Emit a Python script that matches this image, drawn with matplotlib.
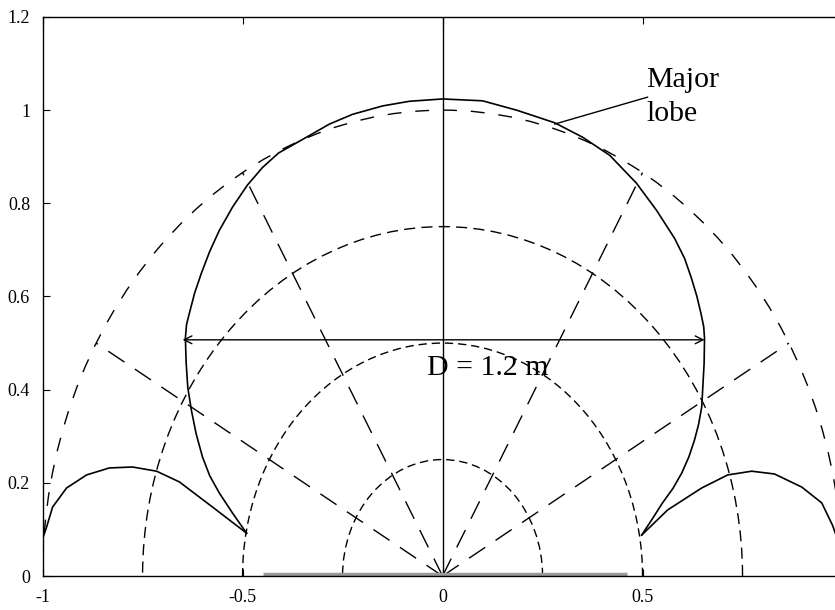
import matplotlib
matplotlib.use("Agg")
import matplotlib.pyplot as plt
import numpy as np
from matplotlib.patches import Arc

# reference grid (polar, drawn in data units)
circle_radii = [0.25, 0.5, 0.75, 1.0]
radial_angles = [30, 60, 120, 150]

# solid pattern
main_lobe_x = [-0.490, -0.525, -0.558, -0.582, -0.600, -0.616, -0.628, -0.637,
               -0.641, -0.643, -0.640, -0.633, -0.620, -0.603, -0.582, -0.558,
               -0.525, -0.488, -0.450, -0.410, -0.340, -0.283, -0.225, -0.150,
               -0.083, 0.000, 0.100, 0.185, 0.280, 0.350, 0.418, 0.485,
               0.535, 0.580, 0.605, 0.622, 0.636, 0.646, 0.653, 0.655,
               0.654, 0.648, 0.640, 0.630, 0.616, 0.598, 0.576, 0.550,
               0.524, 0.498]
main_lobe_y = [0.092, 0.135, 0.178, 0.215, 0.255, 0.305, 0.356, 0.405,
               0.457, 0.511, 0.540, 0.564, 0.607, 0.650, 0.697, 0.742,
               0.792, 0.839, 0.877, 0.908, 0.942, 0.970, 0.991, 1.009,
               1.019, 1.024, 1.020, 1.000, 0.973, 0.942, 0.903, 0.843,
               0.785, 0.725, 0.682, 0.640, 0.600, 0.564, 0.535, 0.510,
               0.457, 0.363, 0.325, 0.292, 0.256, 0.221, 0.188, 0.157,
               0.122, 0.088]

left_lobe_x = [-0.490, -0.575, -0.658, -0.715, -0.775, -0.833, -0.890, -0.940,
               -0.975, -0.990, -1.000, -1.000]
left_lobe_y = [0.092, 0.148, 0.202, 0.225, 0.234, 0.232, 0.217, 0.189,
               0.148, 0.105, 0.080, 0.060]

right_lobe_x = [0.498, 0.563, 0.648, 0.713, 0.773, 0.830, 0.898, 0.948,
                0.975, 0.995]
right_lobe_y = [0.088, 0.142, 0.189, 0.217, 0.225, 0.219, 0.191, 0.157,
                0.109, 0.060]

x_ticks = [-1, -0.5, 0, 0.5]
x_tick_labels = ["-1", "-0.5", "0", "0.5"]
y_ticks = [0, 0.2, 0.4, 0.6, 0.8, 1.0, 1.2]
y_tick_labels = ["0", "0.2", "0.4", "0.6", "0.8", "1", "1.2"]

aperture = (-0.45, 0.46)
dish_width = (-0.65, 0.655)
dish_y = 0.507

plt.rcParams["font.family"] = ["Liberation Serif", "DejaVu Serif"]

fig = plt.figure(figsize=(8.35, 6.10), dpi=100)
ax = fig.add_axes([0.051, 0.0557, 0.958, 0.9165])
ax.set_xlim(-1, 1)
ax.set_ylim(0, 1.2)

circle_dashes = {0.25: (6, 3.5), 0.5: (6, 3.5), 0.75: (8, 4.5), 1.0: (10, 10)}
for r in circle_radii:
    ax.add_patch(Arc((0, 0), 2 * r, 2 * r, theta1=0, theta2=180,
                     color="black", lw=1.0, linestyle=(0, circle_dashes[r])))

for ang in radial_angles:
    t = np.deg2rad(ang)
    ax.plot([0, np.cos(t)], [0, np.sin(t)], color="black", lw=1.0,
            linestyle=(0, (14, 9)))

ax.axvline(0, color="black", lw=1.0)

ax.plot(main_lobe_x, main_lobe_y, color="black", lw=1.2)
ax.plot(left_lobe_x, left_lobe_y, color="black", lw=1.2)
ax.plot(right_lobe_x, right_lobe_y, color="black", lw=1.2)

# aperture on the ground plane
ax.plot(aperture, [0.004, 0.004], color="#9a9a9a", lw=2.5, solid_capstyle="butt")

# D arrow
ax.annotate("", xy=(dish_width[0], dish_y), xytext=(dish_width[1], dish_y),
            arrowprops=dict(arrowstyle="<->", lw=1.0, color="black",
                            shrinkA=0, shrinkB=0, mutation_scale=14))
ax.text(-0.04, 0.432, "D = 1.2 m", fontsize=21.5, ha="left", va="baseline")

# Major lobe label
ax.text(0.51, 1.049, "Major", fontsize=21.5, ha="left", va="baseline")
ax.text(0.51, 0.976, "lobe", fontsize=21.5, ha="left", va="baseline")
ax.annotate("", xy=(0.28, 0.970), xytext=(0.513, 1.028),
            arrowprops=dict(arrowstyle="-", lw=1.0, color="black",
                            shrinkA=0, shrinkB=0))

ax.set_xticks(x_ticks)
ax.set_xticklabels(x_tick_labels)
ax.set_yticks(y_ticks)
ax.set_yticklabels(y_tick_labels)
ax.tick_params(direction="in", top=True, right=True, length=5, width=0.8,
               labelsize=13)
ax.tick_params(axis="x", pad=9)
ax.tick_params(axis="y", pad=9)
for s in ax.spines.values():
    s.set_linewidth(1.0)

fig.savefig("out.png", dpi=100)
